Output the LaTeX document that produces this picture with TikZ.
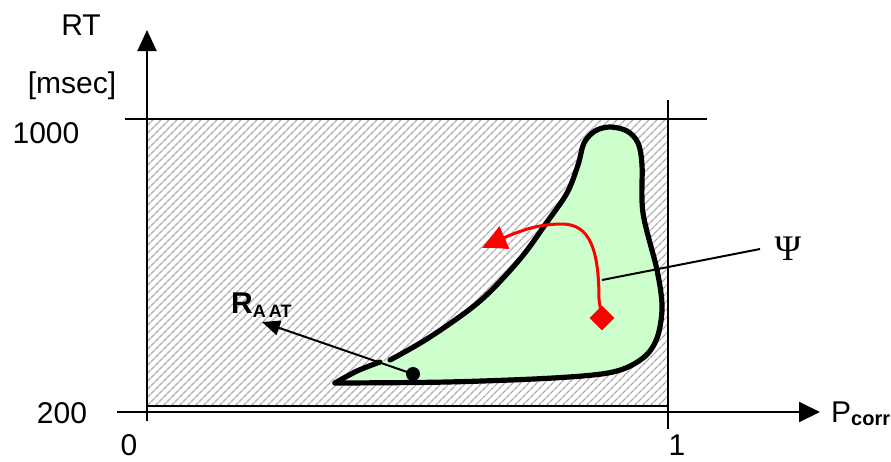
\documentclass[tikz,border=0pt]{standalone}
\usepackage{fontspec}
\setmainfont{Liberation Sans}
\newfontfamily\psifont{Liberation Serif}
\usetikzlibrary{arrows.meta,patterns.meta,shapes.geometric,bending}
\definecolor{blobgreen}{RGB}{204,255,204}
\definecolor{hatchgray}{RGB}{175,175,175}
\begin{document}
\begin{tikzpicture}[x=1pt,y=-1pt,
  axisline/.style={line width=2pt},
  lbl/.style={font=\fontsize{30}{32}\selectfont, inner sep=0pt, anchor=base},
  outline/.style={line width=5.2pt, line join=round, line cap=round},
  hatch/.style={pattern={Lines[angle=45,distance=5.4pt,line width=1.6pt]}, pattern color=hatchgray}]
\useasboundingbox (0,0) rectangle (891,461);
% hatched region
\fill[hatch] (147,119) rectangle (668,406);
\coordinate (hbl) at (147,406); \coordinate (hbr) at (668,406);
\draw[line width=1.5pt] (hbl) -- (hbr);
% green region fill
\fill[blobgreen] plot[smooth, tension=0.55] coordinates {(390,360) (430,337) (480,301) (520,259) (547,222) (567,193) (578,165) (584,143) (595,131) (610,127) (627,131) (638,143) (642,165) (643,213) (657,270) (662,307) (657,338) (643,358) (613,372) (553,378) (447,382) (335,383)}
  -- plot[smooth, tension=0.6] coordinates {(335,383) (357,371) (380,362)} -- cycle;
% green region outline
\draw[outline] plot[smooth, tension=0.55] coordinates {(390,360) (430,337) (480,301) (520,259) (547,222) (567,193) (578,165) (584,143) (595,131) (610,127) (627,131) (638,143) (642,165) (643,213) (657,270) (662,307) (657,338) (643,358) (613,372) (553,378) (447,382) (335,383)};
\draw[outline] plot[smooth, tension=0.6] coordinates {(335,383) (357,371) (380,362)};
% axes
\coordinate (ybot) at (147,421); \coordinate (ytop) at (147,30);
\draw[axisline, -{Triangle[length=21pt,width=19pt]}] (ybot) -- (ytop);
\coordinate (xleft) at (117,412); \coordinate (xright) at (820,412);
\draw[axisline, -{Triangle[length=21pt,width=20pt]}] (xleft) -- (xright);
\coordinate (topl) at (125,119); \coordinate (topr) at (707,119);
\draw[axisline] (topl) -- (topr);
\coordinate (onet) at (668,100); \coordinate (oneb) at (668,429);
\draw[axisline] (onet) -- (oneb);
% axis labels
\node[lbl] (rt) at (81,35) {RT};
\node[lbl] (msec) at (72,93) {[msec]};
\node[lbl] (k1000) at (46,143) {1000};
\node[lbl] (k200) at (62,423) {200};
\node[lbl] (k0) at (129,455) {0};
\node[lbl] (k1) at (677,455) {1};
\node[lbl, anchor=base west] (pcorr) at (831,422) {P\raisebox{-3pt}{\fontsize{20}{22}\selectfont\bfseries corr}};
% R_AAT pointer
\node[circle, fill=black, minimum size=14pt, inner sep=0pt] (dot) at (413,374) {};
\coordinate (rtip) at (262,322);
\draw[line width=2pt, -{Triangle[length=18pt,width=15pt]}] (dot.center) -- (rtip);
\node[lbl, anchor=base west] (raat) at (231,313) {\bfseries R\raisebox{-4pt}{\fontsize{18}{20}\selectfont\bfseries A\,AT}};
% red trajectory
\node[diamond, fill=red, minimum size=25pt, inner sep=0pt] (dia) at (602,318) {};
\coordinate (rhead) at (482,248);
\draw[red, line width=3pt, -{Triangle[length=26pt,width=24pt,bend]}] (dia.center) -- (599,300) .. controls (599,250) and (590,224) .. (562,224) .. controls (535,224) and (515,232) .. (rhead);
% Psi pointer
\coordinate (psiin) at (602,280);
\node[font=\psifont\fontsize{36}{38}\selectfont, inner sep=0pt] (psi) at (788,249) {Ψ};
\coordinate (psiend) at (760,249);
\draw[line width=2pt] (psiin) -- (psiend);
\end{tikzpicture}
\end{document}
